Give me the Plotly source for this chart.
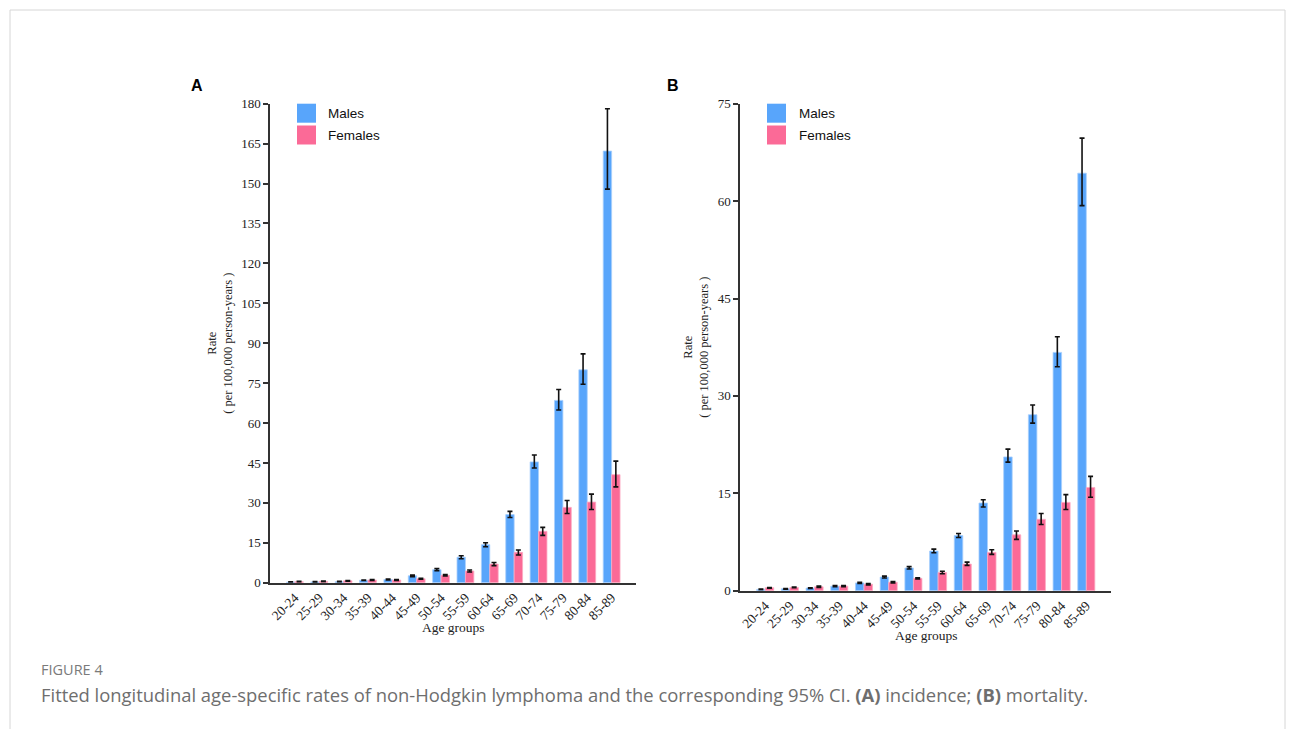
import plotly.graph_objects as go

W, H = 1295, 729
OFF = 8  # page body margin of the rendered HTML

age_groups = ["20-24", "25-29", "30-34", "35-39", "40-44", "45-49", "50-54",
              "55-59", "60-64", "65-69", "70-74", "75-79", "80-84", "85-89"]

# Panel A: incidence
inc_male = [0.2, 0.3, 0.4, 0.9, 1.2, 2.6, 4.9, 9.6, 14.3, 25.6, 45.4, 68.5, 80.0, 162.2]
inc_male_lo = [0.1, 0.2, 0.3, 0.8, 1.0, 2.3, 4.5, 9.0, 13.5, 24.5, 43.1, 64.9, 74.6, 147.9]
inc_male_hi = [0.3, 0.4, 0.5, 1.0, 1.4, 2.9, 5.3, 10.1, 15.0, 26.8, 48.0, 72.6, 86.0, 178.1]
inc_female = [0.4, 0.5, 0.7, 1.0, 1.0, 1.5, 2.8, 4.4, 7.0, 11.4, 19.3, 28.3, 30.3, 40.6]
inc_female_lo = [0.3, 0.4, 0.6, 0.8, 0.8, 1.3, 2.5, 4.0, 6.4, 10.4, 17.8, 26.0, 27.5, 36.0]
inc_female_hi = [0.5, 0.6, 0.8, 1.2, 1.2, 1.7, 3.1, 4.8, 7.6, 12.3, 20.8, 30.9, 33.3, 45.7]

# Panel B: mortality
mor_male = [0.2, 0.3, 0.4, 0.7, 1.2, 2.1, 3.5, 6.1, 8.5, 13.5, 20.6, 27.1, 36.7, 64.3]
mor_male_lo = [0.15, 0.25, 0.35, 0.6, 1.1, 1.95, 3.35, 5.85, 8.2, 12.9, 19.8, 25.8, 34.5, 59.3]
mor_male_hi = [0.25, 0.35, 0.45, 0.8, 1.3, 2.25, 3.7, 6.4, 8.8, 14.0, 21.8, 28.6, 39.1, 69.7]
mor_female = [0.45, 0.5, 0.6, 0.7, 1.0, 1.3, 1.9, 2.8, 4.1, 5.9, 8.6, 11.0, 13.6, 15.9]
mor_female_lo = [0.4, 0.45, 0.5, 0.6, 0.9, 1.2, 1.8, 2.6, 3.9, 5.6, 7.9, 10.2, 12.5, 14.4]
mor_female_hi = [0.5, 0.55, 0.7, 0.8, 1.1, 1.4, 2.0, 3.0, 4.4, 6.3, 9.2, 11.9, 14.8, 17.6]

series_names = ["Males", "Females"]
MALE_C = "#58A5FB"
FEMALE_C = "#FB6A97"

serif = "Liberation Serif, Times New Roman, serif"
sans = "Liberation Sans, Arial, sans-serif"


def px_x(x):
    return (x - OFF) / W


def px_y(y):
    return 1 - (y - OFF) / H


def bar(name, vals, lo, hi, color, edge, xa, ya):
    return go.Bar(
        x=age_groups, y=vals, name=name, xaxis=xa, yaxis=ya,
        marker=dict(color=color, line=dict(color=edge, width=0.8)),
        error_y=dict(type="data", symmetric=False,
                     array=[h - v for h, v in zip(hi, vals)],
                     arrayminus=[v - l for v, l in zip(vals, lo)],
                     color="#111111", thickness=1.6, width=2.5),
        showlegend=False,
    )


fig = go.Figure()
fig.add_trace(bar(series_names[0], inc_male, inc_male_lo, inc_male_hi, MALE_C, "#a8cffd", "x", "y"))
fig.add_trace(bar(series_names[1], inc_female, inc_female_lo, inc_female_hi, FEMALE_C, "#fca9c1", "x", "y"))
fig.add_trace(bar(series_names[0], mor_male, mor_male_lo, mor_male_hi, MALE_C, "#a8cffd", "x2", "y2"))
fig.add_trace(bar(series_names[1], mor_female, mor_female_lo, mor_female_hi, FEMALE_C, "#fca9c1", "x2", "y2"))

axis_line = dict(showline=True, linecolor="#333333", linewidth=1.5, showgrid=False,
                 zeroline=False, mirror=False, automargin=False)

xcommon = dict(axis_line, type="category", range=[-1.02, 14.0], tickangle=-45,
               ticks="", tickfont=dict(family=serif, size=13.5, color="#222222"))
ycommon = dict(axis_line, ticks="outside", ticklen=5, tickwidth=1.5, tickcolor="#333333",
               tickfont=dict(family=serif, size=13, color="#222222"),
               title=dict(text="Rate<br>( per 100,000 person-years )",
                          font=dict(family=serif, size=12.5, color="#222222"), standoff=6))

fig.update_layout(
    width=W, height=H, autosize=False,
    margin=dict(l=0, r=0, t=0, b=0, pad=0, autoexpand=False),
    paper_bgcolor="white", plot_bgcolor="white", showlegend=False,
    barmode="group", bargap=0.31, bargroupgap=0.0,
    xaxis=dict(xcommon, domain=[px_x(270), px_x(636)], anchor="y"),
    yaxis=dict(ycommon, domain=[px_y(582.7), px_y(103.7)], range=[0, 180],
               tickvals=list(range(0, 181, 15)), anchor="x"),
    xaxis2=dict(xcommon, domain=[px_x(740), px_x(1111)], anchor="y2"),
    yaxis2=dict(ycommon, domain=[px_y(590.7), px_y(103.7)], range=[0, 75],
                tickvals=list(range(0, 76, 15)), anchor="x2"),
)

shapes = []
annotations = []

# frame
shapes.append(dict(type="rect", xref="paper", yref="paper",
                   x0=px_x(10), x1=px_x(1285), y0=px_y(735), y1=px_y(10),
                   line=dict(color="#d6d6d6", width=1), fillcolor="rgba(0,0,0,0)", layer="below"))

# legends (custom swatches)
for sx, tx in [(297, 326), (767, 797)]:
    for i, (name, col) in enumerate(zip(series_names, [MALE_C, FEMALE_C])):
        y0 = 103.7 + i * 21.8
        shapes.append(dict(type="rect", xref="paper", yref="paper",
                           x0=px_x(sx), x1=px_x(sx + 19), y0=px_y(y0 + 19), y1=px_y(y0),
                           line=dict(width=0), fillcolor=col))
        annotations.append(dict(text=name, xref="paper", yref="paper",
                                x=px_x(tx), y=px_y(y0 + 9.5), xanchor="left", yanchor="middle",
                                showarrow=False, font=dict(family=sans, size=13.5, color="#111111")))

# x axis titles
for cx, cy in [(453, 627), (926, 635)]:
    annotations.append(dict(text="Age groups", xref="paper", yref="paper",
                            x=px_x(cx), y=px_y(cy), xanchor="center", yanchor="middle",
                            showarrow=False, font=dict(family=serif, size=13.5, color="#222222")))

# panel labels
for lab, cx in [("A", 196.5), ("B", 673)]:
    annotations.append(dict(text=f"<b>{lab}</b>", xref="paper", yref="paper",
                            x=px_x(cx), y=px_y(85), xanchor="center", yanchor="middle",
                            showarrow=False, font=dict(family=sans, size=16, color="#000000")))

# caption
annotations.append(dict(text="FIGURE 4", xref="paper", yref="paper",
                        x=px_x(39), y=px_y(669), xanchor="left", yanchor="middle",
                        showarrow=False, font=dict(family="Open Sans, sans-serif", size=14.5, color="#7a7a7a")))
annotations.append(dict(
    text="Fitted longitudinal age-specific rates of non-Hodgkin lymphoma and the corresponding 95% CI. "
         "<b>(A)</b> incidence; <b>(B)</b> mortality.",
    xref="paper", yref="paper", x=px_x(39), y=px_y(694), xanchor="left", yanchor="middle",
    showarrow=False, font=dict(family="Open Sans, sans-serif", size=18.4, color="#6e6e6e")))

fig.update_layout(shapes=shapes, annotations=annotations)

fig.write_html("out.html")
